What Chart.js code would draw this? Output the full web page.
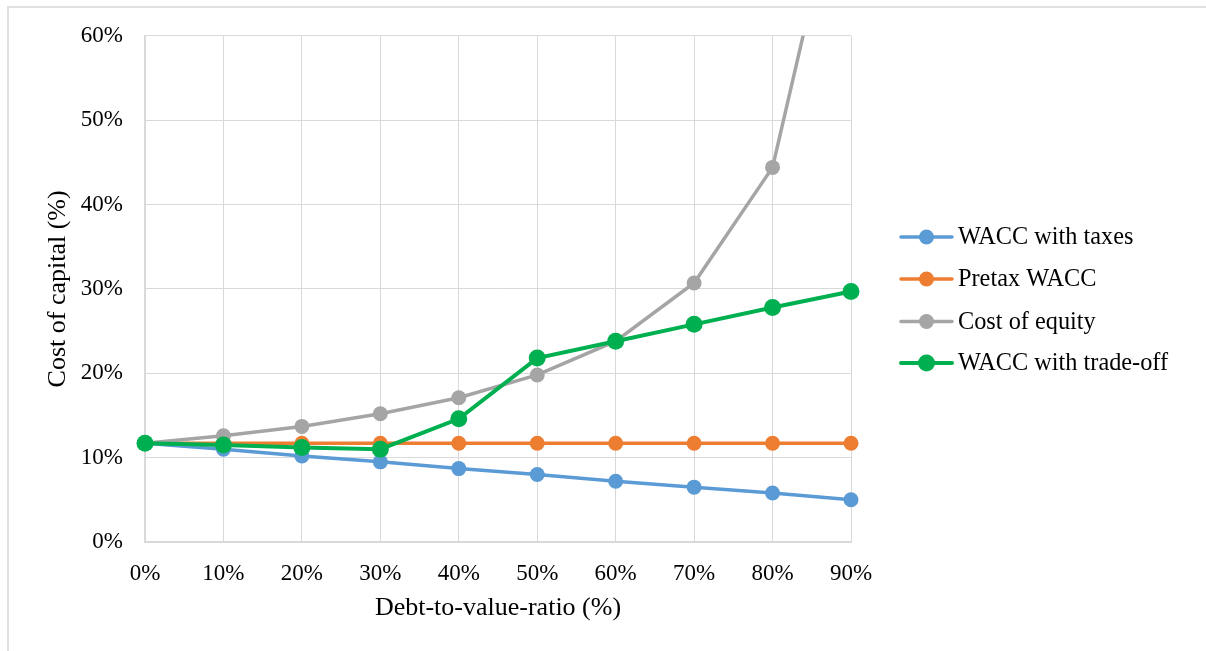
<!DOCTYPE html>
<html>
<head>
<meta charset="utf-8">
<script src="https://cdn.jsdelivr.net/npm/chart.js@4.4.1/dist/chart.umd.min.js"></script>
<style>
  html, body { margin: 0; padding: 0; background: #ffffff; }
  #frame {
    position: absolute; left: 7px; top: 6px; width: 1400px; height: 800px;
    border-top: 2px solid #e0e0e0; border-left: 2px solid #e0e0e0;
  }
  #wrap { position: absolute; left: 0; top: 0; width: 1206px; height: 651px; }
</style>
</head>
<body>
<div id="frame"></div>
<div id="wrap"><canvas id="chart" width="1206" height="651"></canvas></div>
<script>
// Debt-to-value ratios on the horizontal axis
const debtRatios = ['0%', '10%', '20%', '30%', '40%', '50%', '60%', '70%', '80%', '90%'];

// Cost of capital series, in percent
const waccWithTaxes   = [11.7, 11.0, 10.2, 9.5, 8.7, 8.0, 7.2, 6.5, 5.8, 5.0];
const pretaxWacc      = [11.7, 11.7, 11.7, 11.7, 11.7, 11.7, 11.7, 11.7, 11.7, 11.7];
const costOfEquity    = [11.7, 12.6, 13.7, 15.2, 17.1, 19.8, 23.8, 30.7, 44.4, 84.5];
const waccTradeOff    = [11.7, 11.5, 11.2, 11.0, 14.6, 21.8, 23.8, 25.8, 27.8, 29.7];

const seriesNames = ['WACC with taxes', 'Pretax WACC', 'Cost of equity', 'WACC with trade-off'];

// Vertical axis ticks
const yTicks = [0, 10, 20, 30, 40, 50, 60];

const SERIF = "'Liberation Serif', 'Times New Roman', Times, serif";
const GRID = '#d9d9d9';

function series(label, data, color, radius, width, order) {
  return {
    label, data,
    borderColor: color, backgroundColor: color,
    pointBackgroundColor: color, pointBorderColor: color,
    pointBorderWidth: 0, pointRadius: radius, pointHoverRadius: radius,
    borderWidth: width, tension: 0, order,
    clip: { left: 12, right: 12, top: 0, bottom: 12 }
  };
}

// Legend drawn as line + marker beside each series name
const sideLegend = {
  id: 'sideLegend',
  afterDraw(chart) {
    const ctx = chart.ctx;
    const rows = [237, 279, 321.5, 363];
    ctx.save();
    ctx.font = '24.3px ' + SERIF;
    ctx.textBaseline = 'middle';
    ctx.textAlign = 'left';
    chart.data.datasets.forEach((ds, i) => {
      const y = rows[i];
      ctx.strokeStyle = ds.borderColor;
      ctx.lineWidth = ds.borderWidth;
      ctx.lineCap = 'round';
      ctx.beginPath();
      ctx.moveTo(901, y);
      ctx.lineTo(952, y);
      ctx.stroke();
      ctx.fillStyle = ds.borderColor;
      ctx.beginPath();
      ctx.arc(926.5, y, ds.pointRadius, 0, Math.PI * 2);
      ctx.fill();
      ctx.fillStyle = '#000000';
      ctx.fillText(ds.label, 958, y + 1);
    });
    ctx.restore();
  }
};

new Chart(document.getElementById('chart'), {
  type: 'line',
  data: {
    labels: debtRatios,
    datasets: [
      series(seriesNames[0], waccWithTaxes, '#5b9bd5', 7.5, 3.5, 4),
      series(seriesNames[1], pretaxWacc, '#ed7d31', 7.5, 3.5, 3),
      series(seriesNames[2], costOfEquity, '#a5a5a5', 7.5, 3.5, 2),
      series(seriesNames[3], waccTradeOff, '#00b050', 8.5, 4, 1)
    ]
  },
  options: {
    responsive: false,
    animation: false,
    events: [],
    layout: { padding: { top: 35, right: 355, left: 0, bottom: 0 } },
    plugins: { legend: { display: false }, tooltip: { enabled: false } },
    scales: {
      x: {
        type: 'category',
        offset: false,
        grid: { color: GRID, lineWidth: 1, drawTicks: false },
        border: { color: GRID, width: 1.5 },
        ticks: { color: '#000000', font: { family: SERIF, size: 23 }, padding: 18, maxRotation: 0, autoSkip: false },
        title: { display: true, text: 'Debt-to-value-ratio (%)', color: '#000000',
                 font: { family: SERIF, size: 26 }, padding: { top: 0, bottom: 27 } },
        afterFit(scale) { scale.height = 109; }
      },
      y: {
        min: yTicks[0], max: yTicks[yTicks.length - 1],
        afterBuildTicks(scale) { scale.ticks = yTicks.map(v => ({ value: v })); },
        grid: { color: GRID, lineWidth: 1, drawTicks: false },
        border: { color: GRID, width: 1.5 },
        ticks: { color: '#000000', font: { family: SERIF, size: 23 }, padding: 22,
                 callback: v => v + '%' },
        title: { display: true, text: 'Cost of capital (%)', color: '#000000',
                 font: { family: SERIF, size: 26 }, padding: { top: 43, bottom: 0 } },
        afterFit(scale) { scale.width = 145; }
      }
    }
  },
  plugins: [sideLegend]
});
</script>
</body>
</html>
